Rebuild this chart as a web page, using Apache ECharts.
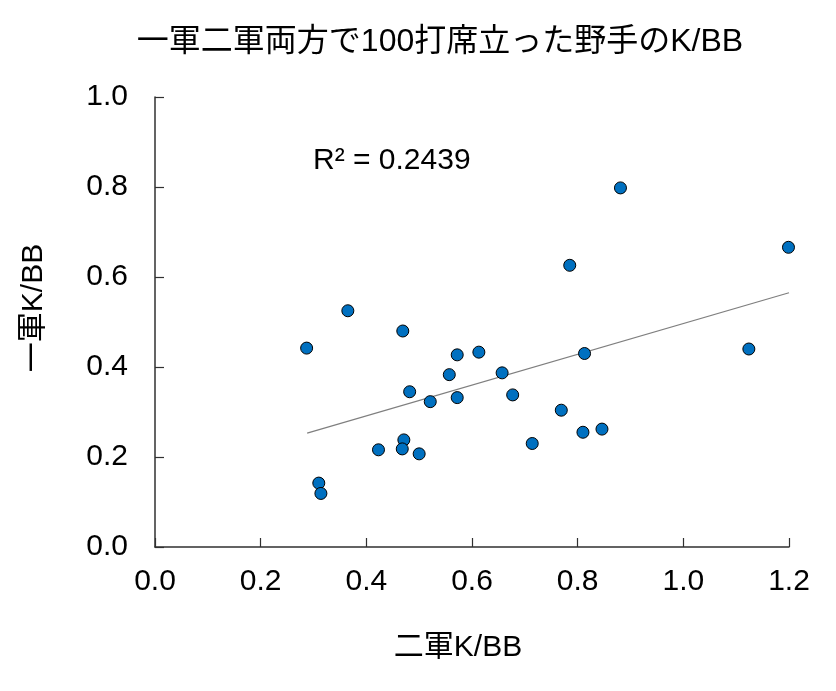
<!DOCTYPE html>
<html>
<head>
  <meta charset="utf-8">
  <title>K/BB</title>
  <style>
    html, body { margin: 0; padding: 0; background: #fff; }
    #main { width: 836px; height: 691px; }
  </style>
</head>
<body>
  <div id="main"></div>
  <script src="https://cdn.jsdelivr.net/npm/echarts@6/dist/echarts.min.js"></script>
  <script>
    // 二軍K/BB (x) と 一軍K/BB (y)
    const farmKBB = [0.287, 0.310, 0.314, 0.365, 0.423, 0.469, 0.471, 0.468, 0.482, 0.500,
      0.521, 0.557, 0.572, 0.572, 0.613, 0.657, 0.677, 0.714, 0.769, 0.785,
      0.810, 0.813, 0.846, 0.881, 1.124, 1.199]
    const majorKBB = [0.442, 0.142, 0.119, 0.525, 0.216, 0.480, 0.238, 0.218, 0.345, 0.207,
      0.323, 0.383, 0.427, 0.332, 0.433, 0.387, 0.338, 0.230, 0.304, 0.626,
      0.255, 0.430, 0.262, 0.798, 0.440, 0.666]
    // 近似直線の両端（図から読んだ値）
    const trendX = [0.288, 1.2]
    const trendY = [0.253, 0.565]
    const rSquared = '0.2439'

    const font = "'Liberation Sans', Arial, 'Noto Sans CJK JP', sans-serif"
    const axisColor = '#303030'

    let chart = echarts.init(document.getElementById('main'))

    let points = farmKBB.map((x, i) => [x, majorKBB[i]])
    let trend = trendX.map((x, i) => [x, trendY[i]])

    let option = {
      backgroundColor: '#fff',
      textStyle: { fontFamily: font },
      title: {
        text: '一軍二軍両方で100打席立った野手のK/BB',
        left: 435,
        top: 21,
        textAlign: 'center',
        textStyle: { fontFamily: font, fontSize: 32, fontWeight: 'normal', color: '#000' },
      },
      grid: {
        left: 155,
        right: 47,
        top: 97,
        bottom: 144,
        containLabel: false,
      },
      xAxis: {
        type: 'value',
        min: 0,
        max: 1.2,
        interval: 0.2,
        name: '二軍K/BB',
        nameLocation: 'middle',
        nameGap: 86,
        nameTextStyle: { fontFamily: font, fontSize: 30, color: '#000', padding: [0, 28, 0, 0] },
        axisLine: { show: true, onZero: false, lineStyle: { color: axisColor, width: 1.5 } },
        axisTick: { show: true, inside: true, length: 9, lineStyle: { color: axisColor, width: 1.2 } },
        axisLabel: {
          margin: 20,
          fontSize: 30,
          color: '#000',
          fontFamily: font,
          formatter: (v) => v.toFixed(1),
        },
        splitLine: { show: false },
      },
      yAxis: {
        type: 'value',
        min: 0,
        max: 1.0,
        interval: 0.2,
        name: '一軍K/BB',
        nameLocation: 'middle',
        nameGap: 106,
        nameRotate: 90,
        nameTextStyle: { fontFamily: font, fontSize: 30, color: '#000', padding: [0, 0, 0, 28] },
        axisLine: { show: true, onZero: false, lineStyle: { color: axisColor, width: 1.5 } },
        axisTick: { show: true, inside: true, length: 9, lineStyle: { color: axisColor, width: 1.2 } },
        axisLabel: {
          margin: 27,
          fontSize: 30,
          color: '#000',
          fontFamily: font,
          formatter: (v) => v.toFixed(1),
        },
        splitLine: { show: false },
      },
      graphic: [
        {
          type: 'text',
          left: 313,
          top: 146,
          style: {
            text: 'R² = ' + rSquared,
            fontFamily: font,
            fontSize: 30,
            fill: '#000',
          },
        },
      ],
      series: [
        {
          name: 'trend',
          type: 'line',
          data: trend,
          symbol: 'none',
          lineStyle: { color: '#7f7f7f', width: 1.3 },
          z: 1,
          silent: true,
        },
        {
          name: 'K/BB',
          type: 'scatter',
          data: points,
          symbol: 'circle',
          symbolSize: 12,
          itemStyle: { color: '#0070C0', borderColor: '#000', borderWidth: 1, opacity: 1 },
          z: 2,
        },
      ],
    }
    chart.setOption(option)
  </script>
</body>
</html>
